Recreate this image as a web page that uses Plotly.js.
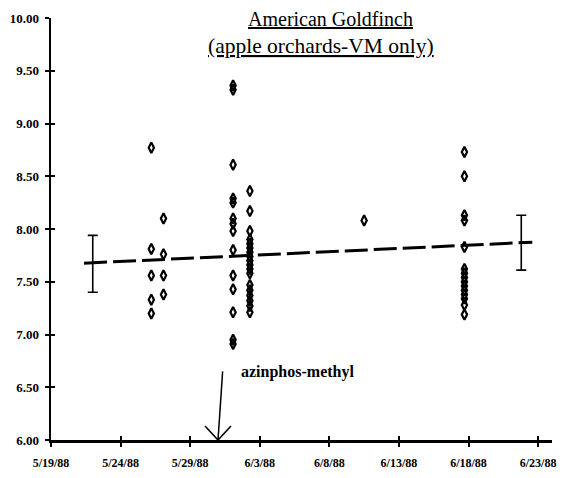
<!DOCTYPE html>
<html>
<head>
<meta charset="utf-8">
<script src="https://cdn.plot.ly/plotly-3.0.1.min.js"></script>
<style>html,body{margin:0;padding:0;background:#fff;}#chart{width:574px;height:478px;}</style>
</head>
<body>
<div id="chart"></div>
<script>
// ---- data ----
const groupDates = ['1988-05-26 05:00', '1988-05-27 02:00', '1988-06-01 02:00', '1988-06-02 07:00', '1988-06-10 12:00', '1988-06-17 17:00'];
const group1a = [8.77, 7.81, 7.56, 7.33, 7.20];
const group1b = [8.10, 7.76, 7.56, 7.38];
const group2a = [9.32, 9.36, 8.61, 8.25, 8.29, 8.10, 8.05, 7.98, 7.80, 7.56, 7.43, 7.21, 6.91, 6.95];
const group2b = [8.36, 8.17, 7.98, 7.90, 7.86, 7.82, 7.78, 7.74, 7.70, 7.66, 7.62, 7.58, 7.47, 7.42, 7.37, 7.32, 7.27, 7.21];
const group4 = [8.08];
const group3 = [8.73, 8.50, 8.13, 8.08, 7.83, 7.62, 7.58, 7.54, 7.50, 7.46, 7.42, 7.38, 7.34, 7.28, 7.19];

const trendX = ['1988-05-21 09:00', '1988-06-22 14:00'];
const trendY = [7.676, 7.875];

const errX = ['1988-05-22', '1988-06-21 19:00'];
const errY = [7.68, 7.87];
const errPlus = [0.26, 0.26];
const errMinus = [0.28, 0.26];

const xTickVals = ['1988-05-19', '1988-05-24', '1988-05-29', '1988-06-03', '1988-06-08', '1988-06-13', '1988-06-18', '1988-06-23'];
const xTickText = ['5/19/88', '5/24/88', '5/29/88', '6/3/88', '6/8/88', '6/13/88', '6/18/88', '6/23/88'];
const yTickVals = [6.0, 6.5, 7.0, 7.5, 8.0, 8.5, 9.0, 9.5, 10.0];

const titleLine1 = 'American Goldfinch';
const titleLine2 = '(apple orchards-VM only)';
const eventLabel = 'azinphos-methyl';
const eventDate = '1988-05-31';
const eventTop = 6.65;

// ---- build point table ----
const groups = [group1a, group1b, group2a, group2b, group4, group3];
const ptX = [], ptY = [];
groups.forEach((g, i) => g.forEach(v => { ptX.push(groupDates[i]); ptY.push(v); }));

const serif = 'Liberation Serif';

const traces = [
  {
    x: errX, y: errY, mode: 'markers', type: 'scatter', xaxis: 'x2', yaxis: 'y2',
    marker: {size: 2, color: 'rgba(0,0,0,0)'}, hoverinfo: 'skip'
  },
  {
    x: trendX, y: trendY, mode: 'lines', type: 'scatter',
    line: {color: '#000', width: 3, dash: '23px,6px'}, hoverinfo: 'skip'
  },
  {
    x: errX, y: errY, mode: 'markers', type: 'scatter',
    marker: {size: 2, color: 'rgba(0,0,0,0)'},
    error_y: {type: 'data', symmetric: false, array: errPlus, arrayminus: errMinus,
              color: '#000', thickness: 1.6, width: 5}
  },
  {
    x: ptX, y: ptY, mode: 'markers', type: 'scatter',
    marker: {symbol: 'diamond-tall-open', size: 7.5, color: '#000', line: {color: '#000', width: 2.2}}
  }
];

const axisCommon = {showgrid: false, zeroline: false, linecolor: '#000', linewidth: 2.5,
  tickcolor: '#000', tickwidth: 2, ticklen: 4};

const layout = {
  width: 574, height: 478,
  margin: {l: 51, r: 22, t: 18, b: 38},
  paper_bgcolor: '#fff', plot_bgcolor: '#fff',
  showlegend: false,
  xaxis: Object.assign({}, axisCommon, {
    type: 'date', range: ['1988-05-19', '1988-06-24'], showline: true,
    ticks: 'outside', tickvals: xTickVals, ticktext: xTickText, ticklabelstandoff: 6,
    tickfont: {family: serif, size: 12, color: '#000', weight: 'bold'}
  }),
  xaxis2: Object.assign({}, axisCommon, {
    type: 'date', range: ['1988-05-19', '1988-06-24'], overlaying: 'x', anchor: 'y2', side: 'bottom',
    showline: false, ticks: 'inside', tickvals: xTickVals, showticklabels: false
  }),
  yaxis: Object.assign({}, axisCommon, {
    range: [6, 10], showline: true, ticks: 'outside', tickvals: yTickVals, tickformat: '.2f',
    ticklabelstandoff: 3,
    tickfont: {family: serif, size: 13, color: '#000', weight: 'bold'}
  }),
  yaxis2: Object.assign({}, axisCommon, {
    range: [6, 10], overlaying: 'y', anchor: 'x2', side: 'left', showline: false,
    ticks: 'inside', tickvals: yTickVals, showticklabels: false
  }),
  shapes: [
    {type: 'line', xref: 'x', yref: 'y', x0: eventDate + ' 08:00', x1: eventDate, y0: eventTop, y1: 6.0,
     line: {color: '#000', width: 1.5}},
    {type: 'line', xref: 'x', yref: 'y', xsizemode: 'pixel', xanchor: eventDate, x0: -13, x1: 0,
     ysizemode: 'pixel', yanchor: 6.0, y0: 14, y1: 0, line: {color: '#000', width: 1.6}},
    {type: 'line', xref: 'x', yref: 'y', xsizemode: 'pixel', xanchor: eventDate, x0: 13, x1: 0,
     ysizemode: 'pixel', yanchor: 6.0, y0: 14, y1: 0, line: {color: '#000', width: 1.6}}
  ],
  annotations: [
    {text: '<u>' + titleLine1 + '</u>', xref: 'paper', yref: 'paper', x: 0.557, y: 1.028, xanchor: 'center', yanchor: 'top',
     showarrow: false, font: {family: serif, size: 20, color: '#000'}},
    {text: '<u>' + titleLine2 + '</u>', xref: 'paper', yref: 'paper', x: 0.539, y: 0.967, xanchor: 'center', yanchor: 'top',
     showarrow: false, font: {family: serif, size: 21.5, color: '#000'}},
    {text: eventLabel, xref: 'x', yref: 'y', x: '1988-06-01 12:00', y: 6.645, xanchor: 'left', yanchor: 'middle',
     showarrow: false, font: {family: serif, size: 16, color: '#000', weight: 'bold'}}
  ]
};

Plotly.newPlot('chart', traces, layout, {displayModeBar: false, staticPlot: true});
</script>
</body>
</html>
